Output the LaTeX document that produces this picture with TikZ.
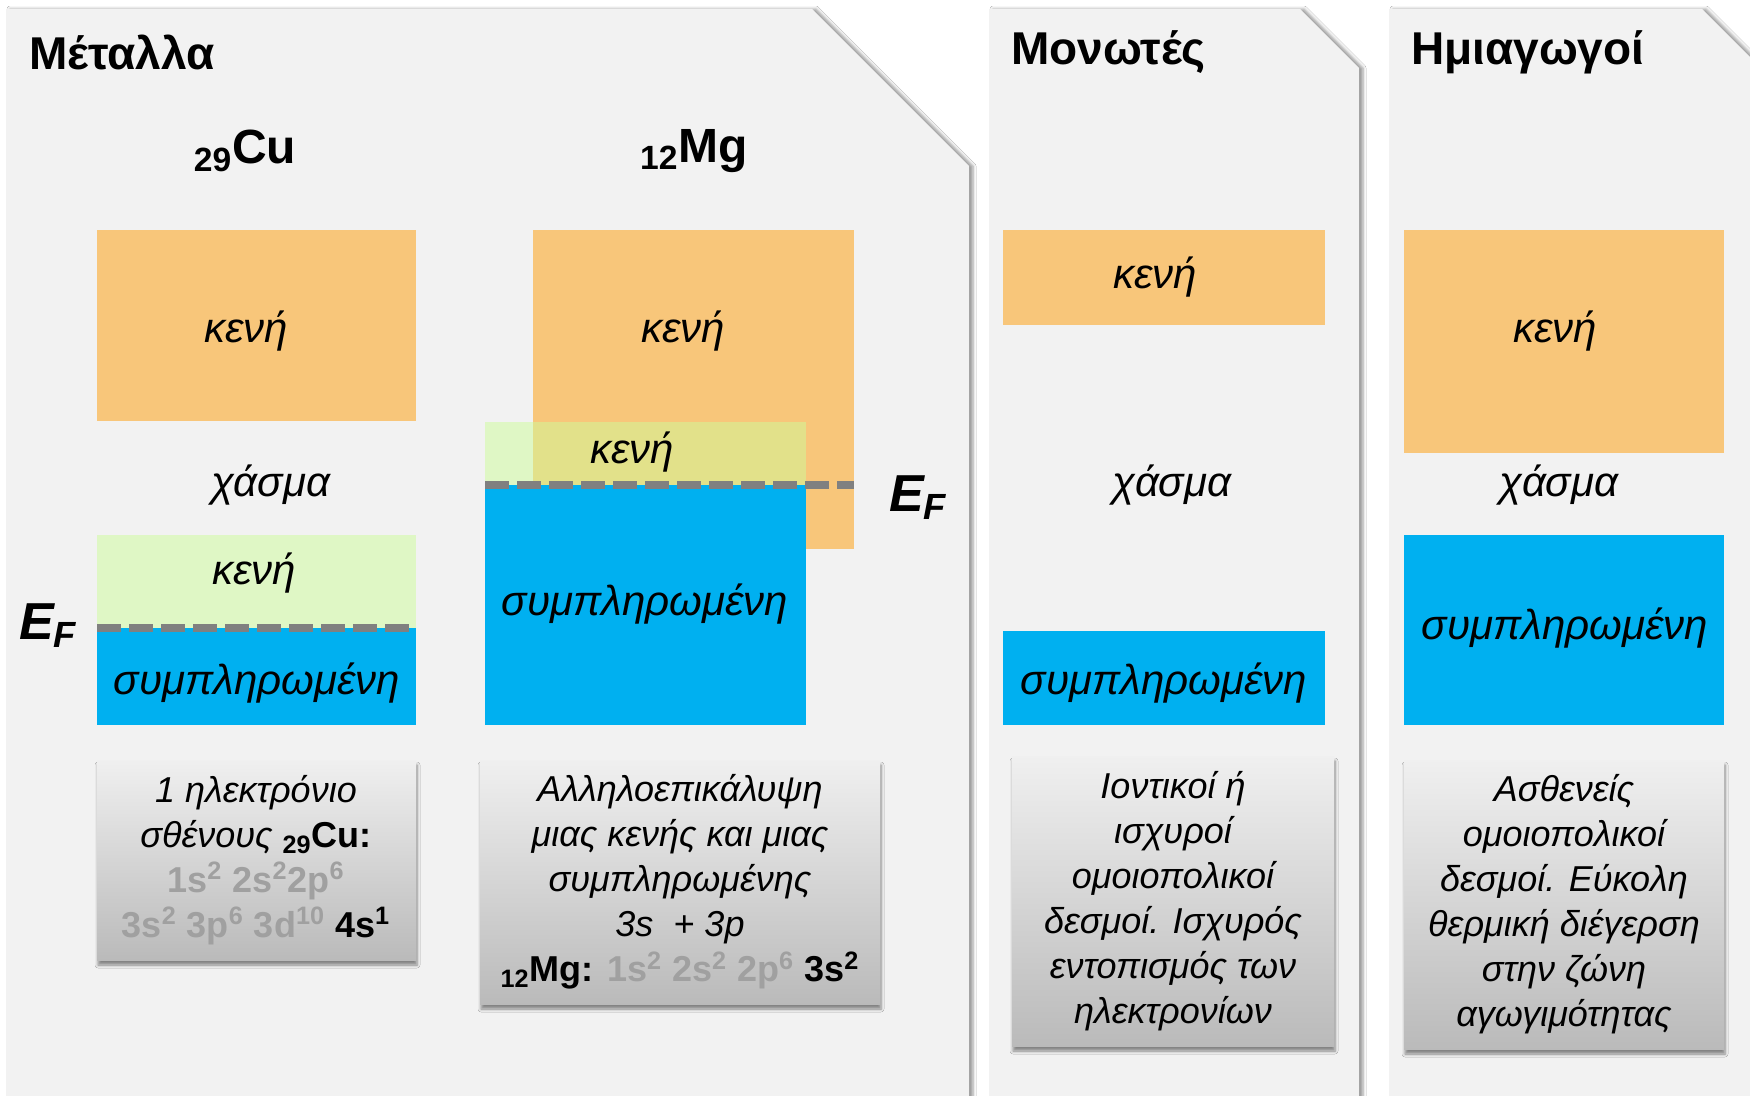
\documentclass[tikz,border=0pt]{standalone}
\usepackage{fontspec}
\setmainfont{Liberation Sans}
\usetikzlibrary{shadows.blur}

\definecolor{panelgray}{HTML}{F2F2F2}
\definecolor{vacant}{HTML}{F8C67A}
\definecolor{partial}{RGB}{206,252,154}
\definecolor{filled}{HTML}{00B0F0}
\definecolor{fermi}{HTML}{808080}
\definecolor{coregray}{HTML}{A0A0A0}
\newcommand\core[1]{\textcolor{coregray}{#1}}
\newcommand\cfg[1]{\textup{\bfseries #1}}

\tikzset{
  panel/.style={fill=panelgray, blur shadow={shadow xshift=2pt, shadow yshift=0pt, shadow blur radius=1.5pt, shadow blur steps=5, shadow opacity=40}},
  vacband/.style={fill=vacant},
  partband/.style={fill=partial, fill opacity=0.5},
  fullband/.style={fill=filled},
  fermiline/.style={draw=fermi, line width=4pt, dash pattern=on 12pt off 4pt},
  bandlabel/.style={font=\fontsize{21}{25}\selectfont\itshape},
  paneltitle/.style={anchor=west, font=\fontsize{23}{28}\selectfont\bfseries},
  element/.style={font=\fontsize{24}{28}\selectfont\bfseries},
  fermilabel/.style={font=\fontsize{26}{30}\selectfont\bfseries\itshape},
  notebox/.style={top color=black!6, bottom color=black!27, blur shadow={shadow xshift=0.5pt, shadow yshift=-2.5pt, shadow blur radius=1.5pt, shadow blur steps=5, shadow opacity=45}},
  notetext/.style={align=center, font=\fontsize{18}{22.5}\selectfont\itshape}
}

\begin{document}
\begin{tikzpicture}[x=0.5pt, y=-0.5pt]
\fill[white] (0,0) rectangle (1750,1096);
\useasboundingbox (0,0) rectangle (1750,1096);

\fill[panel] (6,9) -- (812,9) -- (969,166) -- (969,1120) -- (6,1120) -- cycle;
\fill[panel] (989,9) -- (1300,9) -- (1359,68) -- (1359,1120) -- (989,1120) -- cycle;
\fill[panel] (1389,9) -- (1702,9) -- (1762,69) -- (1762,1120) -- (1389,1120) -- cycle;

\node[paneltitle] (metals) at (22,52) {Μέταλλα};
\node[paneltitle] (insulators) at (1004,52) {Μονωτές};
\node[paneltitle] (semis) at (1404,52) {Ημιαγωγοί};

\node[element] (cu) at (245,151) {\textsubscript{29}Cu};
\node[element] (mg) at (694,151) {\textsubscript{12}Mg};

\fill[vacband] (97,230) rectangle (416,421);
\fill[partband] (97,535) rectangle (416,628);
\fill[fullband] (97,628) rectangle (416,725);
\coordinate (cuEFa) at (97,628);
\coordinate (cuEFb) at (414,628);
\draw[fermiline] (cuEFa) -- (cuEFb);
\node[bandlabel] (cuVac) at (246,331) {κενή};
\node[bandlabel] (cuGap) at (271,485) {χάσμα};
\node[bandlabel] (cuPart) at (254,573) {κενή};
\node[bandlabel] (cuFull) at (257,683) {συμπληρωμένη};
\node[fermilabel] (cuEF) at (48,626) {E\textsubscript{F}};

\fill[vacband] (533,230) rectangle (854,549);
\fill[partband] (485,422) rectangle (806,485);
\fill[fullband] (485,485) rectangle (806,725);
\coordinate (mgEFa) at (485,485);
\coordinate (mgEFb) at (854,485);
\draw[fermiline] (mgEFa) -- (mgEFb);
\node[bandlabel] (mgVac) at (683,331) {κενή};
\node[bandlabel] (mgPart) at (632,452) {κενή};
\node[bandlabel] (mgFull) at (645,604) {συμπληρωμένη};
\node[fermilabel] (mgEF) at (918,498) {E\textsubscript{F}};

\fill[vacband] (1003,230) rectangle (1325,325);
\fill[fullband] (1003,631) rectangle (1325,725);
\node[bandlabel] (insVac) at (1155,277) {κενή};
\node[bandlabel] (insGap) at (1172,485) {χάσμα};
\node[bandlabel] (insFull) at (1164,683) {συμπληρωμένη};

\fill[vacband] (1404,230) rectangle (1724,453);
\fill[fullband] (1404,535) rectangle (1724,725);
\node[bandlabel] (semiVac) at (1555,331) {κενή};
\node[bandlabel] (semiGap) at (1559,485) {χάσμα};
\node[bandlabel] (semiFull) at (1565,628) {συμπληρωμένη};

\fill[notebox] (97,760) rectangle (416,960);
\fill[notebox] (480,760) rectangle (880,1004);
\fill[notebox] (1012,756) rectangle (1334,1046);
\fill[notebox] (1404,760) rectangle (1724,1049);

\node[notetext] (cuNote) at (256,860) {1 ηλεκτρόνιο\\σθένους \cfg{\textsubscript{29}Cu:}\\
  \cfg{\core{1s\textsuperscript{2} 2s\textsuperscript{2}2p\textsuperscript{6}}}\\
  \cfg{\core{3s\textsuperscript{2} 3p\textsuperscript{6} 3d\textsuperscript{10}} 4s\textsuperscript{1}}};
\node[notetext] (mgNote) at (680,882) {Αλληλοεπικάλυψη\\μιας κενής και μιας\\συμπληρωμένης\\3s\ \ + 3p\\
  \cfg{\textsubscript{12}Mg: \core{1s\textsuperscript{2} 2s\textsuperscript{2} 2p\textsuperscript{6}} 3s\textsuperscript{2}}};
\node[notetext] (insNote) at (1173,901) {Ιοντικοί ή\\ισχυροί\\ομοιοπολικοί\\δεσμοί. Ισχυρός\\εντοπισμός των\\ηλεκτρονίων};
\node[notetext] (semiNote) at (1564,904) {Ασθενείς\\ομοιοπολικοί\\δεσμοί. Εύκολη\\θερμική διέγερση\\στην ζώνη\\αγωγιμότητας};
\end{tikzpicture}
\end{document}
